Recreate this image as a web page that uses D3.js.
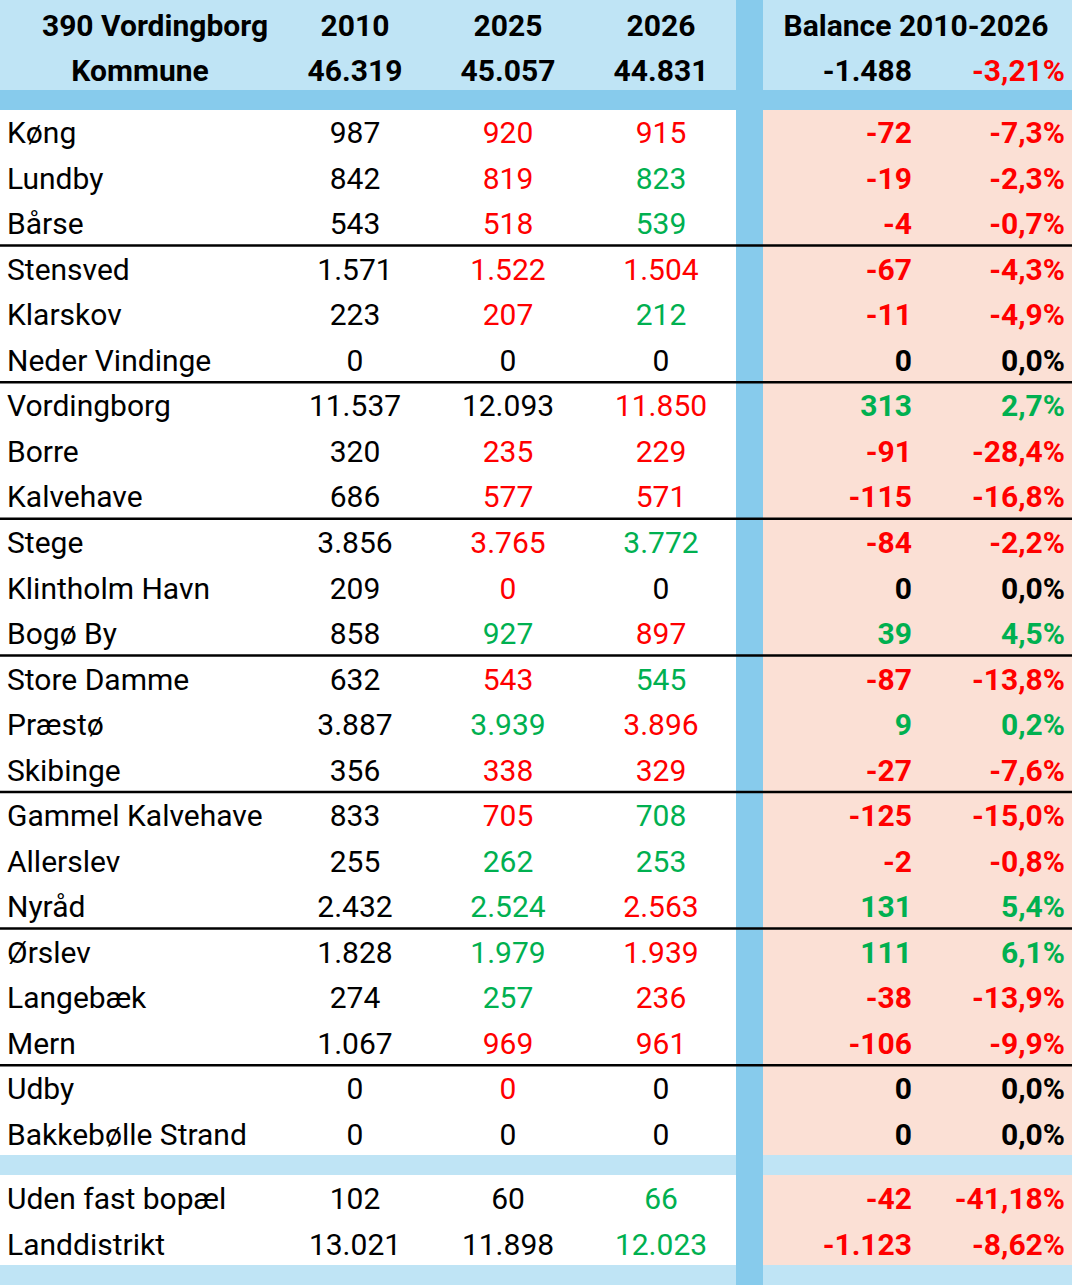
<!DOCTYPE html>
<html><head><meta charset="utf-8">
<script src="https://cdn.jsdelivr.net/npm/d3@7"></script>
<style>body{margin:0;background:#fff}svg text{font-family:"Liberation Sans Narrow","Roboto",sans-serif}</style>
</head><body>
<script>
const width = 1072, height = 1285;

// Data
const names = ["Køng","Lundby","Bårse","Stensved","Klarskov","Neder Vindinge","Vordingborg","Borre","Kalvehave","Stege","Klintholm Havn","Bogø By","Store Damme","Præstø","Skibinge","Gammel Kalvehave","Allerslev","Nyråd","Ørslev","Langebæk","Mern","Udby","Bakkebølle Strand"];
const v2010 = ["987","842","543","1.571","223","0","11.537","320","686","3.856","209","858","632","3.887","356","833","255","2.432","1.828","274","1.067","0","0"];
const v2025 = ["920","819","518","1.522","207","0","12.093","235","577","3.765","0","927","543","3.939","338","705","262","2.524","1.979","257","969","0","0"];
const c2025 = "rrrrrkkrrrrgrgrrggggrrkk".split("");
const v2026 = ["915","823","539","1.504","212","0","11.850","229","571","3.772","0","897","545","3.896","329","708","253","2.563","1.939","236","961","0","0"];
const c2026 = "rggrgkrrrgkrgrrggrrrrkk".split("");
const diff = ["-72","-19","-4","-67","-11","0","313","-91","-115","-84","0","39","-87","9","-27","-125","-2","131","111","-38","-106","0","0"];
const pct = ["-7,3%","-2,3%","-0,7%","-4,3%","-4,9%","0,0%","2,7%","-28,4%","-16,8%","-2,2%","0,0%","4,5%","-13,8%","0,2%","-7,6%","-15,0%","-0,8%","5,4%","6,1%","-13,9%","-9,9%","0,0%","0,0%"];
const extraNames = ["Uden fast bopæl","Landdistrikt"];
const extra2010 = ["102","13.021"], extra2025 = ["60","11.898"], extra2026 = ["66","12.023"];
const extraC2026 = ["g","g"];
const extraDiff = ["-42","-1.123"], extraPct = ["-41,18%","-8,62%"];
const header1 = ["390 Vordingborg","2010","2025","2026","Balance 2010-2026"];
const header2 = ["Kommune","46.319","45.057","44.831","-1.488","-3,21%"];

const col = {r:"#ff0000", g:"#00b050", k:"#000"};
const sign = s => s.startsWith("-") ? "r" : (s === "0" || s === "0,0%") ? "k" : "g";
// fix 2025 colour list to 23 entries
c2025.length = 23; c2025[6] = "k";

const svg = d3.select("body").append("svg").attr("width", width).attr("height", height);
const light = "#bfe4f5", mid = "#87cbec", salmon = "#fbe0d5";

// Row positions
const rowH = 45.5, groupH = 136.6;
const rowY = i => 110 + Math.floor(i / 3) * groupH + (i % 3) * rowH;

// Backgrounds
svg.append("rect").attr("x",0).attr("y",0).attr("width",width).attr("height",90).attr("fill",light);
svg.append("rect").attr("x",0).attr("y",90).attr("width",width).attr("height",20).attr("fill",mid);
svg.append("rect").attr("x",763).attr("y",110).attr("width",width-763).attr("height",1045).attr("fill",salmon);
svg.append("rect").attr("x",0).attr("y",1155).attr("width",width).attr("height",20).attr("fill",light);
svg.append("rect").attr("x",763).attr("y",1175).attr("width",width-763).attr("height",90).attr("fill",salmon);
svg.append("rect").attr("x",0).attr("y",1265).attr("width",width).attr("height",20).attr("fill",light);
svg.append("rect").attr("x",736).attr("y",0).attr("width",27).attr("height",height).attr("fill",mid);

// Group separator lines
d3.range(1, 8).forEach(g => {
  const y = 110 + g * groupH - 1;
  svg.append("line").attr("x1",0).attr("x2",width).attr("y1",y).attr("y2",y).attr("stroke","#000").attr("stroke-width",2.5);
});

const fs = 30;
function txt(x, y, s, anchor, fill, bold) {
  svg.append("text").attr("x",x).attr("y",y).attr("dy","0.35em").attr("text-anchor",anchor)
    .attr("font-size",fs).attr("font-weight",bold?"bold":"normal").attr("fill",fill).text(s);
}

// Header
txt(155, 25, header1[0], "middle", "#000", true);
txt(140, 70, header2[0], "middle", "#000", true);
[355, 508, 661].forEach((x, i) => { txt(x, 25, header1[i+1], "middle", "#000", true); txt(x, 70, header2[i+1], "middle", "#000", true); });
txt(916, 25, header1[4], "middle", "#000", true);
txt(912, 70, header2[4], "end", "#000", true);
txt(1065, 70, header2[5], "end", col.r, true);

// Body rows
names.forEach((n, i) => {
  const y = rowY(i) + rowH / 2;
  txt(7, y, n, "start", "#000");
  txt(355, y, v2010[i], "middle", "#000");
  txt(508, y, v2025[i], "middle", col[c2025[i]]);
  txt(661, y, v2026[i], "middle", col[c2026[i]]);
  txt(912, y, diff[i], "end", col[sign(diff[i])], true);
  txt(1065, y, pct[i], "end", col[sign(pct[i])], true);
});

extraNames.forEach((n, i) => {
  const y = 1175 + i * 46 + 23;
  txt(7, y, n, "start", "#000");
  txt(355, y, extra2010[i], "middle", "#000");
  txt(508, y, extra2025[i], "middle", "#000");
  txt(661, y, extra2026[i], "middle", col[extraC2026[i]]);
  txt(912, y, extraDiff[i], "end", col.r, true);
  txt(1065, y, extraPct[i], "end", col.r, true);
});
</script>
</body></html>
